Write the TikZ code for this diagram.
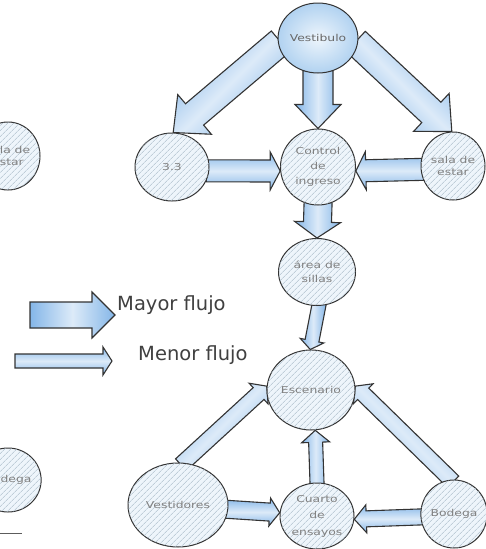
\documentclass[tikz,border=0pt]{standalone}
\usepackage{fontspec}
\setmainfont{DejaVu Sans}
\newfontfamily\lblfont{DejaVu Sans}[FakeStretch=1.3]
\usetikzlibrary{calc,shapes.geometric,patterns.meta,backgrounds}
\definecolor{ablue}{HTML}{84B6E8}
\definecolor{aedge}{HTML}{333333}
\definecolor{cedge}{HTML}{333333}
\definecolor{cfill}{HTML}{EEF5FB}
\definecolor{chatch}{HTML}{A6B8C6}
\definecolor{ctext}{HTML}{808080}
\definecolor{vblue}{HTML}{B9D7F2}
\definecolor{ltext}{HTML}{404040}
\tikzset{
  arrowstyle/.style={draw=aedge, line width=1.1pt, line join=miter,
    left color=ablue, right color=ablue, middle color=white!72!ablue},
  room/.style={ellipse, draw=cedge, line width=1pt, fill=cfill,
    postaction={pattern={Lines[angle=45,distance=4pt,line width=0.5pt]}, pattern color=chatch},
    inner sep=0pt, align=center, text=ctext, font=\lblfont\fontsize{9.5}{15}\selectfont},
  hub/.style={ellipse, draw=cedge, line width=1pt, inner color=white!75!vblue, outer color=vblue!85!ablue,
    inner sep=0pt, align=center, text=ctext!80!black, font=\lblfont\fontsize{9.5}{15}\selectfont},
  legendtext/.style={text=ltext, font=\fontsize{19.5}{22}\selectfont, inner sep=0pt, anchor=base west}
}
% block arrow: [opts]{start}{tip}{shaft half width}{head half width}{head length}
\newcommand\blockarr[6][]{%
  \coordinate (ba-s) at ($(#2)!-3pt!(#3)$);
  \coordinate (ba-t) at (#3);
  \coordinate (ba-c) at ($(#3)!#6!(#2)$);
  \draw[arrowstyle,#1] ($(ba-s)!#4!90:(ba-t)$) -- ($(ba-c)!#4!90:(ba-t)$) -- ($(ba-c)!#5!90:(ba-t)$)
    -- (ba-t) -- ($(ba-c)!#5!-90:(ba-t)$) -- ($(ba-c)!#4!-90:(ba-t)$) -- ($(ba-s)!#4!-90:(ba-t)$) -- cycle;
}
\begin{document}
\begin{tikzpicture}[x=1pt,y=-1pt]
\useasboundingbox (0,0) rectangle (486,549);
\clip (0,0) rectangle (486,549);

% nodes
\node[hub, minimum width=78pt, minimum height=70pt] (vest) at (318,38) {Vestibulo};
\node[room, minimum width=74pt, minimum height=68pt] (s33) at (172,167) {3.3};
\node[room, minimum width=75pt, minimum height=76pt] (ctrl) at (318,167) {Control\\de\\ingreso};
\node[room, minimum width=64pt, minimum height=68pt, font=\lblfont\fontsize{9.5}{12}\selectfont] (sala) at (453,166) {sala de\\estar};
\node[room, minimum width=77pt, minimum height=67pt, font=\lblfont\fontsize{9.5}{14}\selectfont] (area) at (317,272) {área de\\sillas};
\node[room, minimum width=88pt, minimum height=80pt] (esc) at (311,390) {Escenario};
\node[room, minimum width=100pt, minimum height=84pt] (vesti) at (178,505) {Vestidores};
\node[room, minimum width=74pt, minimum height=66pt, font=\lblfont\fontsize{9.5}{16.5}\selectfont] (cuarto) at (317,516) {Cuarto\\de\\ensayos};
\node[room, minimum width=62pt, minimum height=68pt] (bod) at (454,514) {Bodega};
\node[room, minimum width=64pt, minimum height=68pt, font=\lblfont\fontsize{9.5}{12}\selectfont] (salaL) at (8,156) {sala de\\estar};
\node[room, minimum width=64pt, minimum height=64pt] (bodL) at (8,480) {Bodega};

% legend anchors
\coordinate (my1) at (33,315);
\coordinate (my2) at (115,315);
\coordinate (mn1) at (18,361);
\coordinate (mn2) at (112,361);
\node[legendtext] (mayor) at (117,310) {Mayor flujo};
\node[legendtext] (menor) at (138,360) {Menor flujo};

\begin{scope}[on background layer]
  \fill[white] (0,0) rectangle (486,549);
  % major flows
  \blockarr[shading angle=45]{vest.188}{s33.88}{14pt}{26pt}{28pt}
  \blockarr{vest.south}{ctrl.north}{15pt}{23pt}{24pt}
  \blockarr[shading angle=135]{vest.352}{sala.92}{14pt}{26pt}{28pt}
  \blockarr{ctrl.south}{area.north}{14pt}{23pt}{16pt}
  % minor flows
  \blockarr[shading angle=0]{s33.354}{ctrl.186}{11pt}{19pt}{10pt}
  \blockarr[shading angle=0]{sala.186}{ctrl.354}{11pt}{19pt}{10pt}
  \blockarr{area.-87}{esc.91}{7pt}{12pt}{9pt}
  \blockarr[shading angle=45]{vesti.83}{esc.175}{8pt}{14pt}{11pt}
  \blockarr[shading angle=135]{bod.95}{esc.5}{8pt}{14pt}{11pt}
  \blockarr{cuarto.north}{esc.-84}{7pt}{14pt}{12pt}
  \blockarr[shading angle=0]{vesti.-5}{cuarto.175}{9pt}{14pt}{10pt}
  \blockarr[shading angle=0]{bod.185}{cuarto.-5}{8pt}{14pt}{12pt}
\end{scope}
% legend arrows
\blockarr{my1}{my2}{13pt}{23pt}{23pt}
\blockarr[shading angle=0]{mn1}{mn2}{7pt}{14pt}{9pt}

% short line at bottom left
\draw[cedge!80, line width=1pt] (0,533) -- (22,533);
\end{tikzpicture}
\end{document}
